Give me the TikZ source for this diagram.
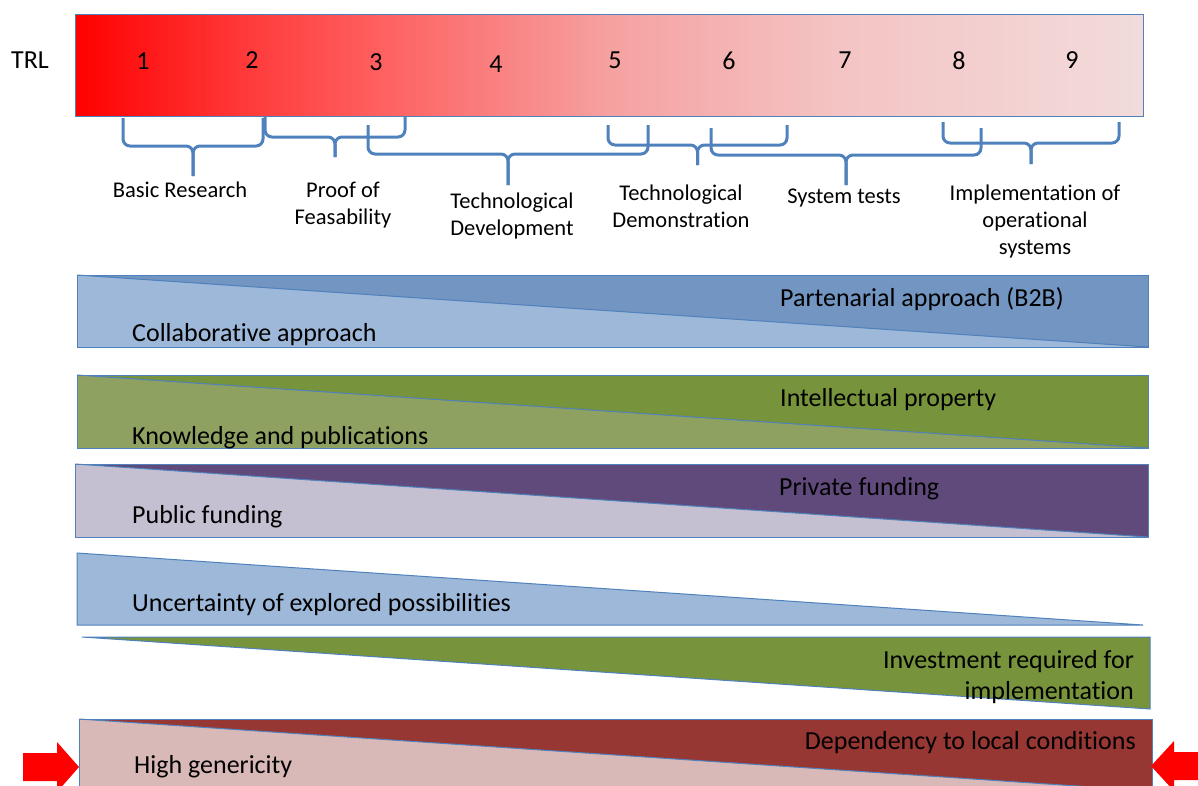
\documentclass[tikz,border=0pt]{standalone}
\usepackage{fontspec}
\setmainfont{Carlito}[Ligatures=NoCommon]
\usetikzlibrary{positioning}
\definecolor{edgeblue}{HTML}{4F81BD}
\definecolor{bluedark}{HTML}{7295C1}
\definecolor{bluelight}{HTML}{9DB8D9}
\definecolor{greendark}{HTML}{77933B}
\definecolor{greenlight}{HTML}{8FA160}
\definecolor{purpledark}{HTML}{604A7B}
\definecolor{purplelight}{HTML}{C5BFD2}
\definecolor{reddark}{HTML}{963734}
\definecolor{redlight}{HTML}{D9B9B8}
\pgfdeclarehorizontalshading{trlfade}{100bp}{rgb(0bp)=(1,0,0); rgb(25bp)=(1,0,0);
  rgb(33.5bp)=(1,.24,.24); rgb(39bp)=(1,.37,.37); rgb(44.5bp)=(.98,.5,.5);
  rgb(50bp)=(.965,.63,.63); rgb(61bp)=(.957,.77,.77); rgb(75bp)=(.95,.86,.86);
  rgb(100bp)=(.95,.86,.86)}
\tikzset{
  bar/.style={draw=edgeblue, line width=1pt, shading=trlfade, inner sep=0,
    minimum width=1068pt, minimum height=102pt},
  num/.style={font=\fontsize{26}{30}\selectfont, anchor=base, inner sep=0},
  lab/.style={font=\fontsize{22.5}{27}\selectfont, align=center, anchor=base, inner sep=0},
  bandtext/.style={font=\fontsize{26}{31}\selectfont, align=right, inner sep=0},
  brace line/.style={draw=edgeblue, line width=3pt, rounded corners=7pt},
  band edge/.style={draw=edgeblue, line width=1pt},
}
% curly brace: x1, x2, top, middle, tip
\newcommand{\trlbrace}[5]{%
  \pgfmathsetmacro{\bracemid}{(#1+#2)/2}
  \draw[brace line] (#1,#3) -- (#1,#4) -- (\bracemid,#4) -- (\bracemid,#5);
  \draw[brace line] (#2,#3) -- (#2,#4) -- (\bracemid,#4) -- (\bracemid,#5);
}
% band: x1, x2, top, bottom, light, dark
\newcommand{\trlband}[6]{%
  \fill[#5] (#1,#3) rectangle (#2,#4);
  \fill[#6] (#1,#3) -- (#2,#3) -- (#2,#4) -- cycle;
  \draw[band edge] (#1,#3) rectangle (#2,#4);
  \draw[band edge] (#1,#3) -- (#2,#4);
}

\begin{document}
\begin{tikzpicture}[x=1pt, y=-1pt]
    \useasboundingbox (0,0) rectangle (1198,785);
    \clip (0,0) rectangle (1198,785);

    % TRL scale
    \node[bar] (trlbar) at (609,65) {};
    \node[num] (trl) at (30,68) {TRL};
    \foreach \n/\x/\y in {1/143/69, 2/252/68, 3/376/70, 4/496/72, 5/615/68,
        6/729/69, 7/845/68, 8/959/69, 9/1072/68}
        \node[num] (n\n) at (\x,\y) {\n};

    % braces
    \trlbrace{123}{263}{118}{146}{176}
    \trlbrace{265}{405}{117}{137}{157}
    \trlbrace{368}{648}{125}{154}{185}
    \trlbrace{608}{787}{125}{145}{165}
    \trlbrace{711}{981}{128}{155}{185}
    \trlbrace{943}{1119}{122}{143}{164}

    % base of a node with several lines = its last line
    \node[lab] (basic) at (180,197) {Basic Research};
    \node[lab] (proof) at (343,224) {Proof of\\Feasability};
    \node[lab] (develop) at (512,235) {Technological\\Development};
    \node[lab] (demo) at (681,227) {Technological\\Demonstration};
    \node[lab] (tests) at (844,203) {System tests};
    \node[lab] (implem) at (1035,254) {Implementation of\\operational\\systems};

    % bands
    \trlband{77}{1148}{275}{347}{bluelight}{bluedark}
    \trlband{77}{1148}{375}{448}{greenlight}{greendark}
    \trlband{75}{1148}{464}{537}{purplelight}{purpledark}

    \fill[bluelight] (77,553) -- (1143,625) -- (77,625) -- cycle;
    \draw[band edge] (77,553) -- (1143,625) -- (77,625) -- cycle;
    \fill[greendark] (82,637) -- (1150,637) -- (1150,709) -- cycle;
    \draw[band edge] (82,637) -- (1150,637) -- (1150,709) -- cycle;

    \trlband{79}{1152}{719}{791}{redlight}{reddark}

    \node[bandtext, anchor=base west] (partner) at (780,306) {Partenarial approach (B2B)};
    \node[bandtext, anchor=base west] (collab) at (132,341) {Collaborative approach};
    \node[bandtext, anchor=base west] (ip) at (780,406) {Intellectual property};
    \node[bandtext, anchor=base west] (know) at (132,444) {Knowledge and publications};
    \node[bandtext, anchor=base west] (private) at (779,495) {Private funding};
    \node[bandtext, anchor=base west] (public) at (132,523) {Public funding};
    \node[bandtext, anchor=base west] (uncert) at (132,611) {Uncertainty of explored possibilities};
    \node[bandtext, anchor=base east] (invest) at (1134,699) {Investment required for\\implementation};
    \node[bandtext, anchor=base east] (depend) at (1136,749) {Dependency to local conditions};
    \node[bandtext, anchor=base west] (generic) at (134,773) {High genericity};

    % red arrows
    \fill[red] (23,753) -- (57,753) -- (57,742) -- (79,767) -- (57,792)
        -- (57,781) -- (23,781) -- cycle;
    \fill[red] (1210,752) -- (1174,752) -- (1174,741) -- (1151,766) -- (1174,791)
        -- (1174,780) -- (1210,780) -- cycle;
\end{tikzpicture}
\end{document}
